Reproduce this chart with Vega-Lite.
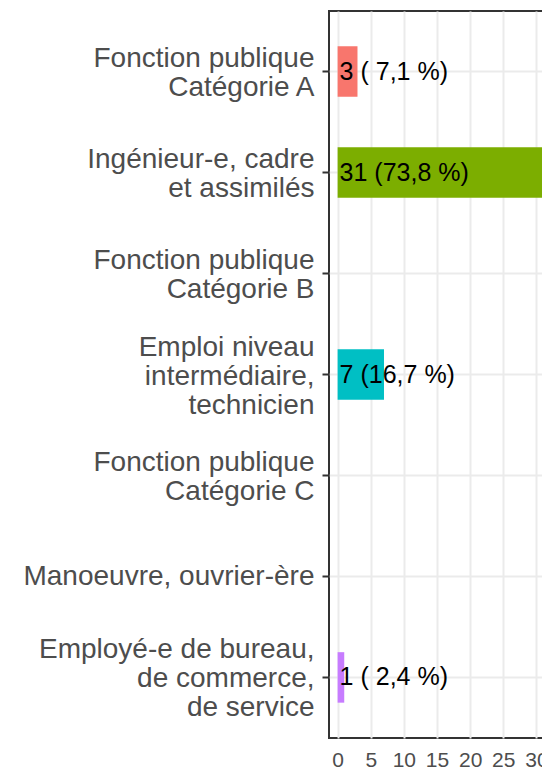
{
  "$schema": "https://vega.github.io/schema/vega-lite/v6.json",
  "autosize": "none",
  "width": 214,
  "height": 727,
  "padding": {"left": 329, "top": 11, "right": 0, "bottom": 31},
  "background": "white",
  "config": {
    "view": {"stroke": "#333333", "strokeWidth": 2},
    "axisX": {
      "title": null,
      "values": [0, 2.5, 5, 7.5, 10, 12.5, 15, 17.5, 20, 22.5, 25, 27.5, 30],
      "labelExpr": "datum.value % 5 == 0 ? datum.label : ''",
      "grid": true,
      "gridColor": "#EBEBEB",
      "gridWidth": {"condition": {"test": "datum.value % 5 == 0", "value": 2}, "value": 1.3},
      "tickOpacity": {"condition": {"test": "datum.value % 5 == 0", "value": 1}, "value": 0},
      "tickColor": "#333333",
      "tickWidth": 2,
      "tickSize": 6,
      "domain": false,
      "labelFont": "Liberation Sans",
      "labelFontSize": 21,
      "labelColor": "#4D4D4D",
      "labelPadding": 5,
      "labelFlush": false,
      "labelOverlap": false
    }
  },
  "data": {
    "values": [
      {"cat": "Fonction publique|Catégorie A", "n": 3, "label": "3 ( 7,1 %)"},
      {"cat": "Ingénieur-e, cadre|et assimilés", "n": 31, "label": "31 (73,8 %)"},
      {"cat": "Fonction publique|Catégorie B", "n": 0, "label": ""},
      {"cat": "Emploi niveau|intermédiaire,|technicien", "n": 7, "label": "7 (16,7 %)"},
      {"cat": "Fonction publique|Catégorie C", "n": 0, "label": ""},
      {"cat": "Manoeuvre, ouvrier-ère", "n": 0, "label": ""},
      {"cat": "Employé-e de bureau,|de commerce,|de service", "n": 1, "label": "1 ( 2,4 %)"}
    ]
  },
  "transform": [{"filter": "datum.n > 0"}],
  "encoding": {
    "y": {
      "field": "cat",
      "type": "nominal",
      "scale": {
        "domain": [
          "Fonction publique|Catégorie A",
          "Ingénieur-e, cadre|et assimilés",
          "Fonction publique|Catégorie B",
          "Emploi niveau|intermédiaire,|technicien",
          "Fonction publique|Catégorie C",
          "Manoeuvre, ouvrier-ère",
          "Employé-e de bureau,|de commerce,|de service"
        ],
        "paddingInner": 0.5,
        "paddingOuter": 0.35
      },
      "axis": {
        "title": null,
        "domain": false,
        "grid": true,
        "gridColor": "#EBEBEB",
        "gridWidth": 2,
        "bandPosition": 0.5,
        "tickColor": "#333333",
        "tickWidth": 2,
        "tickSize": 7,
        "labelFont": "Liberation Sans",
        "labelFontSize": 28,
        "labelColor": "#4D4D4D",
        "labelPadding": 8,
        "labelLineHeight": 29,
        "labelLimit": 1000,
        "labelOffset": {
          "condition": [
            {"test": "length(split(datum.label, '|')) == 3", "value": -27},
            {"test": "length(split(datum.label, '|')) == 2", "value": -12.5}
          ],
          "value": 1
        },
        "labelExpr": "split(datum.label, '|')"
      }
    }
  },
  "layer": [
    {
      "mark": {"type": "bar", "clip": true},
      "encoding": {
        "x": {
          "field": "n",
          "type": "quantitative",
          "stack": null,
          "scale": {"domain": [-1.3, 31], "nice": false, "zero": false}
        },
        "x2": {"datum": 0},
        "color": {
          "field": "cat",
          "type": "nominal",
          "scale": {
            "domain": [
              "Fonction publique|Catégorie A",
              "Ingénieur-e, cadre|et assimilés",
              "Emploi niveau|intermédiaire,|technicien",
              "Employé-e de bureau,|de commerce,|de service"
            ],
            "range": ["#F8766D", "#7CAE00", "#00BFC4", "#C77CFF"]
          },
          "legend": null
        }
      }
    },
    {
      "mark": {"type": "text", "align": "left", "baseline": "middle", "dx": 2, "font": "Liberation Sans", "fontSize": 25, "color": "black"},
      "encoding": {
        "x": {"datum": 0, "type": "quantitative"},
        "text": {"field": "label"}
      }
    }
  ]
}
